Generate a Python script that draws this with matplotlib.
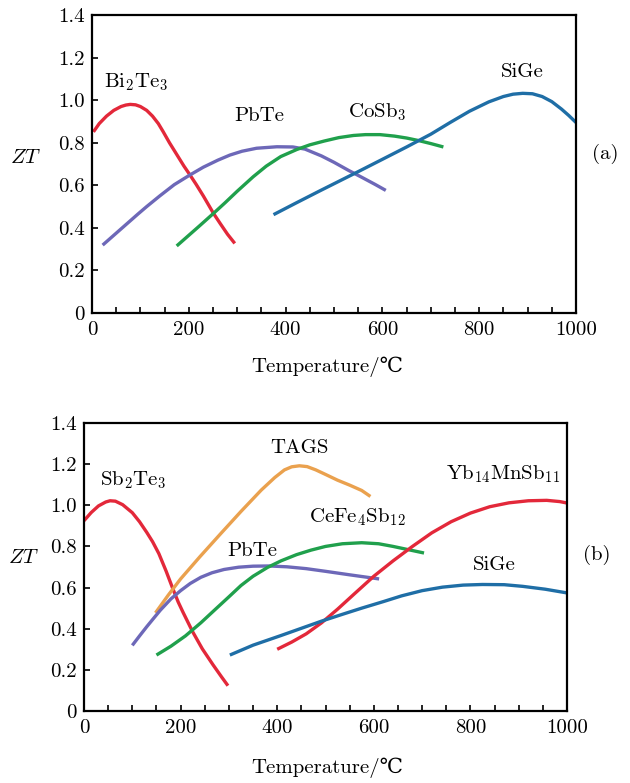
import matplotlib
matplotlib.use("Agg")
import matplotlib.pyplot as plt
import numpy as np

plt.rcParams['font.family'] = ['cmr10', 'DejaVu Serif']
plt.rcParams['mathtext.fontset'] = 'cm'
plt.rcParams['axes.unicode_minus'] = False

# ---------------- data: panel (a) ----------------
bi2te3_x = [3, 15, 30, 45, 60, 70, 79, 90, 100, 113, 125, 137, 147, 160, 175, 190, 202, 215, 230, 251, 265, 280, 295]
bi2te3_y = [0.851, 0.890, 0.925, 0.952, 0.970, 0.977, 0.980, 0.978, 0.970, 0.952, 0.925, 0.890, 0.852, 0.800, 0.745, 0.690, 0.650, 0.605, 0.550, 0.468, 0.420, 0.370, 0.327]

pbte_a_x = [22, 45, 70, 95, 113, 140, 170, 202, 230, 260, 285, 310, 340, 382, 415, 440, 474, 500, 530, 557, 585, 607]
pbte_a_y = [0.319, 0.365, 0.415, 0.465, 0.500, 0.550, 0.603, 0.648, 0.685, 0.718, 0.742, 0.760, 0.774, 0.781, 0.780, 0.770, 0.738, 0.708, 0.670, 0.638, 0.604, 0.576]

cosb3_x = [175, 195, 220, 251, 275, 300, 333, 360, 390, 423, 450, 480, 510, 540, 565, 595, 625, 650, 675, 700, 726]
cosb3_y = [0.315, 0.355, 0.405, 0.468, 0.518, 0.572, 0.640, 0.690, 0.735, 0.768, 0.790, 0.808, 0.824, 0.834, 0.838, 0.838, 0.831, 0.822, 0.810, 0.796, 0.780]

sige_a_x = [375, 420, 470, 520, 549, 600, 650, 700, 740, 780, 820, 850, 870, 890, 910, 930, 950, 970, 985, 1000]
sige_a_y = [0.462, 0.515, 0.573, 0.630, 0.663, 0.722, 0.780, 0.840, 0.895, 0.948, 0.992, 1.017, 1.028, 1.032, 1.030, 1.017, 0.993, 0.958, 0.928, 0.895]

# ---------------- data: panel (b) ----------------
sb2te3_x = [0, 15, 30, 45, 54, 65, 80, 100, 115, 130, 142, 155, 170, 183, 195, 205, 225, 245, 267, 285, 298]
sb2te3_y = [0.925, 0.965, 0.997, 1.016, 1.022, 1.020, 1.003, 0.964, 0.920, 0.868, 0.823, 0.765, 0.680, 0.600, 0.530, 0.480, 0.385, 0.302, 0.225, 0.165, 0.123]

tags_x = [148, 175, 200, 240, 283, 325, 367, 395, 415, 430, 446, 462, 480, 500, 525, 550, 575, 593]
tags_y = [0.477, 0.565, 0.642, 0.750, 0.862, 0.970, 1.074, 1.135, 1.172, 1.187, 1.192, 1.188, 1.172, 1.150, 1.122, 1.098, 1.072, 1.043]

pbte_b_x = [100, 115, 130, 145, 158, 180, 200, 220, 242, 265, 290, 320, 350, 383, 420, 460, 500, 550, 611]
pbte_b_y = [0.319, 0.365, 0.410, 0.453, 0.490, 0.545, 0.585, 0.620, 0.650, 0.672, 0.688, 0.699, 0.704, 0.705, 0.701, 0.692, 0.679, 0.662, 0.642]

cefe4sb12_x = [150, 180, 210, 242, 270, 300, 325, 350, 380, 408, 440, 470, 500, 535, 575, 610, 640, 670, 704]
cefe4sb12_y = [0.272, 0.315, 0.365, 0.429, 0.490, 0.555, 0.610, 0.655, 0.698, 0.730, 0.760, 0.782, 0.800, 0.813, 0.818, 0.813, 0.800, 0.785, 0.768]

yb14_x = [400, 430, 460, 492, 525, 560, 600, 640, 680, 720, 760, 800, 840, 880, 920, 958, 985, 1000]
yb14_y = [0.300, 0.335, 0.375, 0.429, 0.495, 0.570, 0.655, 0.730, 0.800, 0.866, 0.920, 0.962, 0.993, 1.012, 1.022, 1.024, 1.018, 1.011]

sige_b_x = [302, 350, 408, 450, 492, 535, 575, 620, 658, 700, 742, 785, 825, 870, 908, 955, 1000]
sige_b_y = [0.272, 0.320, 0.367, 0.402, 0.437, 0.470, 0.500, 0.532, 0.560, 0.585, 0.602, 0.612, 0.615, 0.614, 0.606, 0.592, 0.574]

x_ticks = [0, 200, 400, 600, 800, 1000]
y_ticks = [0, 0.2, 0.4, 0.6, 0.8, 1.0, 1.2, 1.4]
y_tick_labels = ['0', '0.2', '0.4', '0.6', '0.8', '1.0', '1.2', '1.4']

RED = '#e3283a'
PURPLE = '#6d68b8'
GREEN = '#20a04c'
BLUE = '#1f6ea6'
ORANGE = '#eaa14e'
LW = 2.4
FS = 15

fig = plt.figure(figsize=(6.3, 7.83), dpi=100)
ax1 = fig.add_axes([92/630, 1-313/783, 484/630, 298/783])
ax2 = fig.add_axes([84/630, 1-711/783, 483/630, 288/783])


def style(ax):
    ax.set_xlim(0, 1000)
    ax.set_ylim(0, 1.4)
    ax.set_xticks(x_ticks)
    ax.set_xticks(np.arange(0, 1001, 50), minor=True)
    ax.set_yticks(y_ticks)
    ax.set_yticklabels(y_tick_labels)
    ax.tick_params(axis='both', which='both', direction='in', length=4, width=1.2,
                   labelsize=FS, top=False, right=False)
    ax.tick_params(axis='x', which='major', pad=6)
    ax.tick_params(axis='y', which='major', pad=5)
    for s in ax.spines.values():
        s.set_linewidth(1.6)


def curve(ax, x, y, c):
    ax.plot(x, y, color=c, lw=LW, solid_joinstyle='round', solid_capstyle='butt')


# panel (a)
curve(ax1, bi2te3_x, bi2te3_y, RED)
curve(ax1, pbte_a_x, pbte_a_y, PURPLE)
curve(ax1, cosb3_x, cosb3_y, GREEN)
curve(ax1, sige_a_x, sige_a_y, BLUE)
style(ax1)
ax1.text(91, 1.086, r'$\mathrm{Bi_2Te_3}$', fontsize=FS, ha='center', va='center')
ax1.text(345, 0.925, 'PbTe', fontsize=FS, ha='center', va='center')
ax1.text(590, 0.945, r'$\mathrm{CoSb_3}$', fontsize=FS, ha='center', va='center')
ax1.text(889, 1.133, 'SiGe', fontsize=FS, ha='center', va='center')
ax1.text(1060, 0.746, '(a)', fontsize=FS, ha='center', va='center', clip_on=False)
ax1.text(-137, 0.726, r'$ZT$', fontsize=FS, ha='center', va='center', clip_on=False)
ax1.text(486, -0.255, 'Temperature/℃', fontsize=FS, ha='center', va='center', clip_on=False)

# panel (b)
curve(ax2, sb2te3_x, sb2te3_y, RED)
curve(ax2, tags_x, tags_y, ORANGE)
curve(ax2, pbte_b_x, pbte_b_y, PURPLE)
curve(ax2, cefe4sb12_x, cefe4sb12_y, GREEN)
curve(ax2, yb14_x, yb14_y, RED)
curve(ax2, sige_b_x, sige_b_y, BLUE)
style(ax2)
ax2.text(103, 1.122, r'$\mathrm{Sb_2Te_3}$', fontsize=FS, ha='center', va='center')
ax2.text(446, 1.279, 'TAGS', fontsize=FS, ha='center', va='center')
ax2.text(867, 1.15, r'$\mathrm{Yb_{14}MnSb_{11}}$', fontsize=FS, ha='center', va='center')
ax2.text(567, 0.941, r'$\mathrm{CeFe_4Sb_{12}}$', fontsize=FS, ha='center', va='center')
ax2.text(348, 0.78, 'PbTe', fontsize=FS, ha='center', va='center')
ax2.text(850, 0.709, 'SiGe', fontsize=FS, ha='center', va='center')
ax2.text(1062, 0.757, '(b)', fontsize=FS, ha='center', va='center', clip_on=False)
ax2.text(-125, 0.744, r'$ZT$', fontsize=FS, ha='center', va='center', clip_on=False)
ax2.text(504, -0.278, 'Temperature/℃', fontsize=FS, ha='center', va='center', clip_on=False)

fig.savefig('out.png', dpi=100)
